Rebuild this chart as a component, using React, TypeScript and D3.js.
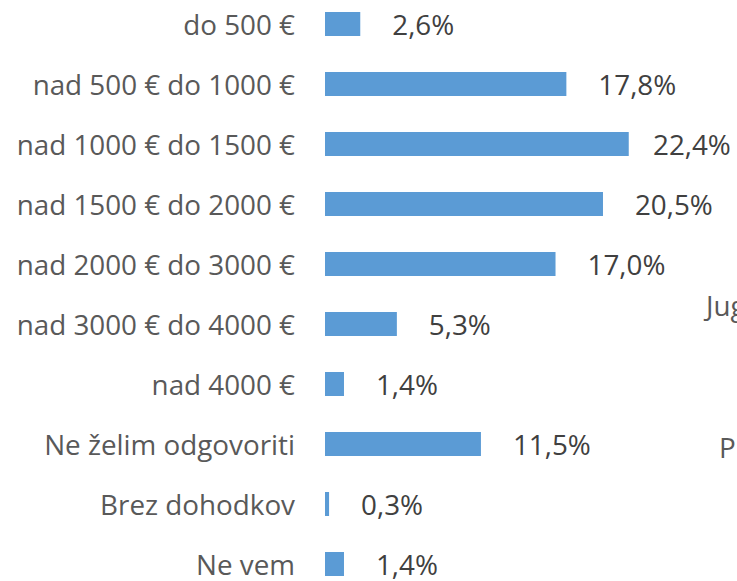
import React from "react";
import * as d3 from "d3";

const categories = [
  "do 500 €",
  "nad 500 € do 1000 €",
  "nad 1000 € do 1500 €",
  "nad 1500 € do 2000 €",
  "nad 2000 € do 3000 €",
  "nad 3000 € do 4000 €",
  "nad 4000 €",
  "Ne želim odgovoriti",
  "Brez dohodkov",
  "Ne vem",
];
const values = [2.6, 17.8, 22.4, 20.5, 17.0, 5.3, 1.4, 11.5, 0.3, 1.4];
const valueLabels = ["2,6%", "17,8%", "22,4%", "20,5%", "17,0%", "5,3%", "1,4%", "11,5%", "0,3%", "1,4%"];

const W = 737;
const H = 581;

export default function App() {
  const x = d3.scaleLinear().domain([0, 25]).range([325, 664]);
  const y = d3.scalePoint<string>().domain(categories).range([24, 564]);
  const barH = 24;
  const font = "'Open Sans', 'Liberation Sans', sans-serif";
  const fs = 27.8;
  return (
    <svg
      width={W}
      height={H}
      style={{ position: "absolute", left: 0, top: 0, background: "#fff" }}
      fontFamily={font}
    >
      <rect x={0} y={0} width={W} height={H} fill="#fff" />
      {categories.map((c, i) => {
        const cy = y(c)!;
        const xEnd = x(values[i]);
        const lx = Math.min(xEnd + 32, W - 84);
        return (
          <g key={c}>
            <text x={295} y={cy + 11} textAnchor="end" fontSize={fs} fill="#595959">
              {c}
            </text>
            <rect x={x(0)} y={cy - barH / 2} width={xEnd - x(0)} height={barH} fill="#5B9BD5" />
            <text x={lx} y={cy + 11} fontSize={fs} fill="#404040">
              {valueLabels[i]}
            </text>
          </g>
        );
      })}
      <text x={706} y={316} fontSize={fs} fill="#595959">Jugovzhodna</text>
      <text x={719} y={458} fontSize={fs} fill="#595959">P</text>
    </svg>
  );
}
